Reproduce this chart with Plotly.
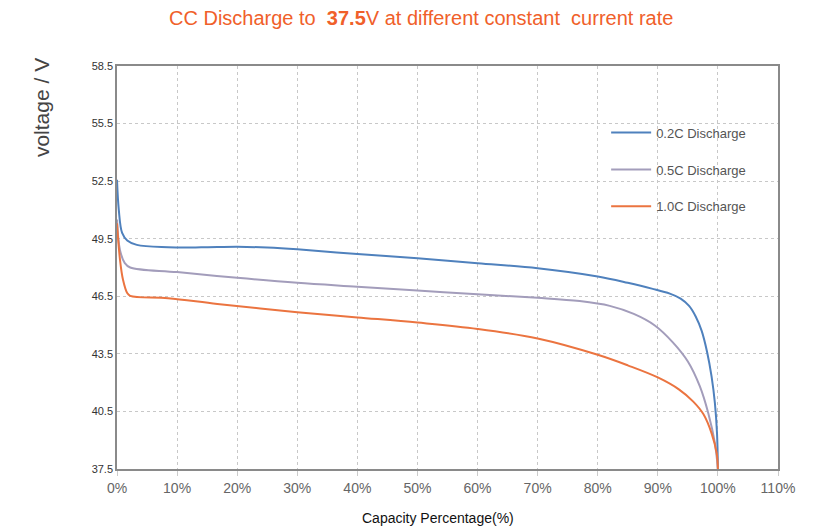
import plotly.graph_objects as go

# Capacity percentage (%) and voltage (V)
cap_02 = [0, 0.3, 0.85, 1.7, 3.3, 8.5, 14, 20, 25, 30, 40, 50, 60, 70, 80, 85, 89, 92, 93.8, 95.2, 96.3, 97.3, 98.2, 98.95, 99.5, 99.85, 100]
volt_02 = [52.57, 51.0, 49.8, 49.41, 49.18, 49.06, 49.05, 49.08, 49.04, 48.95, 48.7, 48.48, 48.22, 47.96, 47.53, 47.2, 46.9, 46.64, 46.38, 46.0, 45.45, 44.7, 43.6, 42.31, 40.93, 39.36, 37.5]

cap_05 = [0, 0.5, 1.3, 2.2, 10, 20, 30, 40, 50, 60, 70, 77, 82, 86, 89.5, 92.5, 95, 97.0, 98.4, 99.5, 100]
volt_05 = [50.5, 48.9, 48.23, 48.0, 47.76, 47.46, 47.2, 47.0, 46.8, 46.6, 46.42, 46.25, 46.0, 45.58, 44.98, 44.1, 43.1, 41.8, 40.4, 38.84, 37.5]

cap_10 = [0, 0.5, 1.0, 1.7, 2.2, 8.5, 16.7, 30, 40, 50, 60, 70, 80, 85, 90, 93.5, 95.9, 97.6, 98.95, 99.8, 100]
volt_10 = [50.3, 48.4, 47.36, 46.67, 46.52, 46.4, 46.1, 45.67, 45.4, 45.13, 44.8, 44.3, 43.45, 42.9, 42.27, 41.65, 41.01, 40.35, 39.36, 38.32, 37.5]

series_names = ["0.2C Discharge", "0.5C Discharge", "1.0C Discharge"]
series_colors = ["#4F81BD", "#A39DBB", "#EB7440"]

y_ticks = [37.5, 40.5, 43.5, 46.5, 49.5, 52.5, 55.5, 58.5]
x_ticks = list(range(0, 111, 10))
x_tick_labels = [f"{v}%" for v in x_ticks]

fig = go.Figure()
for name, xs, ys, col in zip(series_names, [cap_02, cap_05, cap_10], [volt_02, volt_05, volt_10], series_colors):
    fig.add_trace(go.Scatter(
        x=xs, y=ys, mode="lines", name=name, legendgroup=name,
        line=dict(color=col, width=2, shape="spline", smoothing=1.0),
    ))

fig.update_layout(
    width=823, height=530,
    margin=dict(l=117, r=45, t=66, b=61),
    paper_bgcolor="white", plot_bgcolor="white",
    font=dict(family="Liberation Sans, Arial, sans-serif"),
    showlegend=True,
    legend=dict(
        x=0.74, y=0.872, xanchor="left", yanchor="top",
        bgcolor="rgba(0,0,0,0)", font=dict(size=13, color="#555"),
        tracegroupgap=17, itemwidth=40,
    ),
    annotations=[
        dict(text="CC Discharge to  <b>37.5</b>V at different constant  current rate",
             xref="paper", yref="paper", x=0.46, y=1.12, xanchor="center", yanchor="middle",
             showarrow=False, font=dict(size=20, color="#F0602A")),
        dict(text="voltage / V", xref="paper", yref="paper", x=-0.115, y=0.898,
             xanchor="center", yanchor="middle", textangle=-90, showarrow=False,
             font=dict(size=21, color="#444")),
        dict(text="Capacity Percentage(%)", xref="paper", yref="paper", x=0.485, y=-0.122,
             xanchor="center", yanchor="middle", showarrow=False,
             font=dict(size=14, color="#111")),
    ],
)

fig.update_xaxes(
    range=[0, 110], tickvals=x_ticks, ticktext=x_tick_labels,
    showgrid=True, gridcolor="#C8C8C8", griddash="dot", gridwidth=1,
    showline=True, linecolor="#8A8A8A", linewidth=1.5, mirror=True,
    ticks="outside", ticklen=5, tickcolor="#CCCCCC",
    tickfont=dict(size=14, color="#666"), zeroline=False,
)
fig.update_yaxes(
    range=[37.5, 58.5], tickvals=y_ticks, ticktext=[f"{v:.1f}" for v in y_ticks],
    showgrid=True, gridcolor="#C8C8C8", griddash="dot", gridwidth=1,
    showline=True, linecolor="#8A8A8A", linewidth=1.5, mirror=True,
    ticks="", tickfont=dict(size=11, color="#333"), zeroline=False,
)

fig.write_html("out.html", config={"displayModeBar": False},
               post_script="document.body.style.margin='0';document.body.style.overflow='hidden';")
